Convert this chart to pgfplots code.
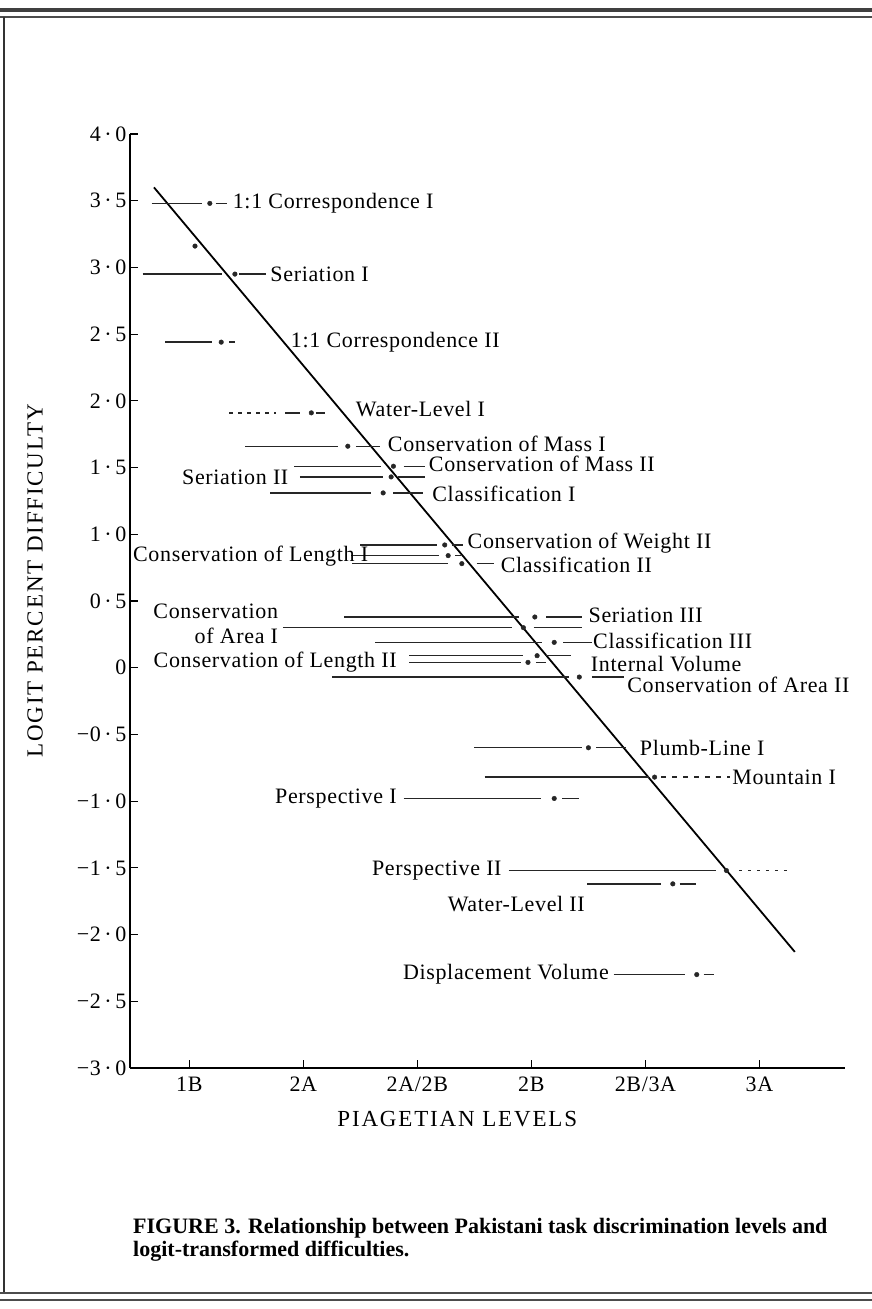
\documentclass[border=0pt]{standalone}
\usepackage{fontspec}
\setmainfont{Liberation Serif}
\usepackage{pgfplots}
\pgfplotsset{compat=1.18}
\newcommand{\lbl}{\fontsize{22bp}{25bp}\selectfont\addfontfeatures{LetterSpace=3}}
\newcommand{\ttl}{\fontsize{23bp}{26bp}\selectfont\addfontfeatures{LetterSpace=8}}
\begin{document}
\begin{tikzpicture}
\path[use as bounding box] (0,0) rectangle (872bp,1309bp);
% frame of the scanned figure
\draw[line width=4bp, black!75] (0,1299bp) -- (872bp,1299bp);
\draw[line width=1.5bp, black!70] (0,1292bp) -- (872bp,1292bp);
\draw[line width=1.2bp, black!80] (4bp,1292bp) -- (4bp,17bp);
\draw[line width=1.5bp, black!70] (0,16bp) -- (872bp,16bp);
\draw[line width=2.5bp, black!70] (0,9bp) -- (872bp,9bp);
\begin{axis}[
  at={(130bp,241bp)}, anchor=south west,
  scale only axis, width=715bp, height=934bp,
  xmin=0.48, xmax=6.75, ymin=-3, ymax=4,
  axis x line=bottom, axis y line=left,
  axis line style={-, line width=1.4bp},
  xtick={1,2,3,4,5,6},
  xticklabels={1B,2A,2A/2B,2B,2B/3A,3A},
  ytick={-3,-2.5,-2,-1.5,-1,-0.5,0,0.5,1,1.5,2,2.5,3,3.5,4},
  yticklabels={−3\,·\,0,−2\,·\,5,−2\,·\,0,−1\,·\,5,−1\,·\,0,−0\,·\,5,0,0\,·\,5,1\,·\,0,1\,·\,5,2\,·\,0,2\,·\,5,3\,·\,0,3\,·\,5,4\,·\,0},
  tick align=inside, major tick length=8bp,
  tick style={line width=1.2bp, black},
  tick label style={font=\lbl},
  x tick label style={yshift=-5bp},
  clip=false,
]
% regression line
\addplot[black, line width=1.8bp] coordinates {(0.69,3.60) (6.31,-2.13)};
% solid range segments
\addplot[black!85, line width=1.3bp, unbounded coords=jump] coordinates {
(0.67,3.48) (1.11,3.48) (nan,nan) (1.23,3.48) (1.33,3.48) (nan,nan)
(0.59,2.95) (1.29,2.95) (nan,nan) (1.44,2.95) (1.67,2.95) (nan,nan)
(0.79,2.44) (1.20,2.44) (nan,nan) (1.35,2.44) (1.40,2.44) (nan,nan)
(1.84,1.91) (1.97,1.91) (nan,nan) (2.11,1.91) (2.19,1.91) (nan,nan)
(1.49,1.66) (2.30,1.66) (nan,nan) (2.46,1.66) (2.67,1.66) (nan,nan)
(1.92,1.51) (2.68,1.51) (nan,nan) (2.88,1.51) (3.07,1.51) (nan,nan)
(1.97,1.43) (2.70,1.43) (nan,nan) (2.83,1.43) (3.07,1.43) (nan,nan)
(1.71,1.31) (2.59,1.31) (nan,nan) (2.79,1.31) (3.05,1.31) (nan,nan)
(2.50,0.92) (3.17,0.92) (nan,nan) (3.30,0.92) (3.40,0.92) (nan,nan)
(2.42,0.84) (3.19,0.84) (nan,nan) (3.33,0.84) (3.38,0.84) (nan,nan)
(2.43,0.78) (3.27,0.78) (nan,nan) (3.52,0.78) (3.67,0.78) (nan,nan)
(2.36,0.38) (3.89,0.38) (nan,nan) (4.13,0.38) (4.44,0.38) (nan,nan)
(1.82,0.30) (3.83,0.30) (nan,nan) (4.02,0.30) (4.44,0.30) (nan,nan)
(2.63,0.19) (4.09,0.19) (nan,nan) (4.28,0.19) (4.53,0.19) (nan,nan)
(2.93,0.09) (3.93,0.09) (nan,nan) (4.13,0.09) (4.35,0.09) (nan,nan)
(2.93,0.04) (3.91,0.04) (nan,nan) (4.04,0.04) (4.13,0.04) (nan,nan)
(2.25,-0.07) (4.33,-0.07) (nan,nan) (4.53,-0.07) (4.81,-0.07) (nan,nan)
(3.50,-0.60) (4.44,-0.60) (nan,nan) (4.57,-0.60) (4.83,-0.60) (nan,nan)
(3.59,-0.82) (5.03,-0.82) (nan,nan)
(2.88,-0.98) (4.08,-0.98) (nan,nan) (4.27,-0.98) (4.42,-0.98) (nan,nan)
(3.80,-1.52) (5.62,-1.52) (nan,nan)
(4.49,-1.62) (5.14,-1.62) (nan,nan) (5.30,-1.62) (5.44,-1.62) (nan,nan)
(4.72,-2.30) (5.35,-2.30) (nan,nan) (5.51,-2.30) (5.60,-2.30)
};
% dotted / dashed parts
\addplot[black!85, line width=1.3bp, dash pattern=on 4bp off 5bp] coordinates {(1.35,1.91) (1.76,1.91)};
\addplot[black!85, line width=1.3bp, dash pattern=on 5bp off 6bp] coordinates {(5.14,-0.82) (5.74,-0.82)};
\addplot[black!85, line width=1.3bp, dash pattern=on 3bp off 6bp] coordinates {(5.82,-1.52) (6.26,-1.52)};
% point estimates
\addplot[only marks, mark=*, mark size=2.3bp, black!85] coordinates {
(1.18,3.48) (1.40,2.95) (1.28,2.44) (2.07,1.91) (2.39,1.66) (2.79,1.51)
(2.77,1.43) (2.70,1.31) (3.24,0.92) (3.27,0.84) (3.39,0.78) (4.03,0.38)
(3.93,0.30) (4.20,0.19) (4.05,0.09) (3.97,0.04) (4.42,-0.07) (4.50,-0.60)
(5.08,-0.82) (4.20,-0.98) (5.71,-1.52) (5.24,-1.62) (5.45,-2.30) (1.05,3.16)
};
% task labels
\begin{scope}[every node/.style={font=\lbl, inner sep=0pt}]
\node[anchor=west] at (axis cs:1.38,3.48) {1:1 Correspondence I};
\node[anchor=west] at (axis cs:1.71,2.95) {Seriation I};
\node[anchor=west] at (axis cs:1.89,2.44) {1:1 Correspondence II};
\node[anchor=west] at (axis cs:2.46,1.94) {Water-Level I};
\node[anchor=west] at (axis cs:2.74,1.68) {Conservation of Mass I};
\node[anchor=west] at (axis cs:3.10,1.53) {Conservation of Mass II};
\node[anchor=east] at (axis cs:1.87,1.43) {Seriation II};
\node[anchor=west] at (axis cs:3.13,1.30) {Classification I};
\node[anchor=west] at (axis cs:3.44,0.93) {Conservation of Weight II};
\node[anchor=east] at (axis cs:2.57,0.84) {Conservation of Length I};
\node[anchor=west] at (axis cs:3.73,0.77) {Classification II};
\node[anchor=east, align=right] at (axis cs:1.78,0.33) {Conservation\\of Area I};
\node[anchor=west] at (axis cs:4.50,0.39) {Seriation III};
\node[anchor=west] at (axis cs:4.54,0.20) {Classification III};
\node[anchor=west] at (axis cs:4.52,0.03) {Internal Volume};
\node[anchor=east] at (axis cs:2.82,0.04) {Conservation of Length II};
\node[anchor=west] at (axis cs:4.84,-0.13) {Conservation of Area II};
\node[anchor=west] at (axis cs:4.95,-0.60) {Plumb-Line I};
\node[anchor=west] at (axis cs:5.76,-0.82) {Mountain I};
\node[anchor=east] at (axis cs:2.82,-0.98) {Perspective I};
\node[anchor=east] at (axis cs:3.74,-1.52) {Perspective II};
\node[anchor=east] at (axis cs:4.47,-1.77) {Water-Level II};
\node[anchor=east] at (axis cs:4.68,-2.30) {Displacement Volume};
\node[font=\ttl] at (axis cs:3.35,-3.38) {PIAGETIAN LEVELS};
\end{scope}
\end{axis}
\node[rotate=90, font=\ttl, inner sep=0pt] at (35bp,728bp) {LOGIT PERCENT DIFFICULTY};
\node[anchor=base west, inner sep=0pt, font=\bfseries\fontsize{22bp}{25bp}\selectfont] at (133bp,75bp) {FIGURE 3. Relationship between Pakistani task discrimination levels and};
\node[anchor=base west, inner sep=0pt, font=\bfseries\fontsize{22bp}{25bp}\selectfont] at (133bp,52bp) {logit-transformed difficulties.};
\end{tikzpicture}
\end{document}
